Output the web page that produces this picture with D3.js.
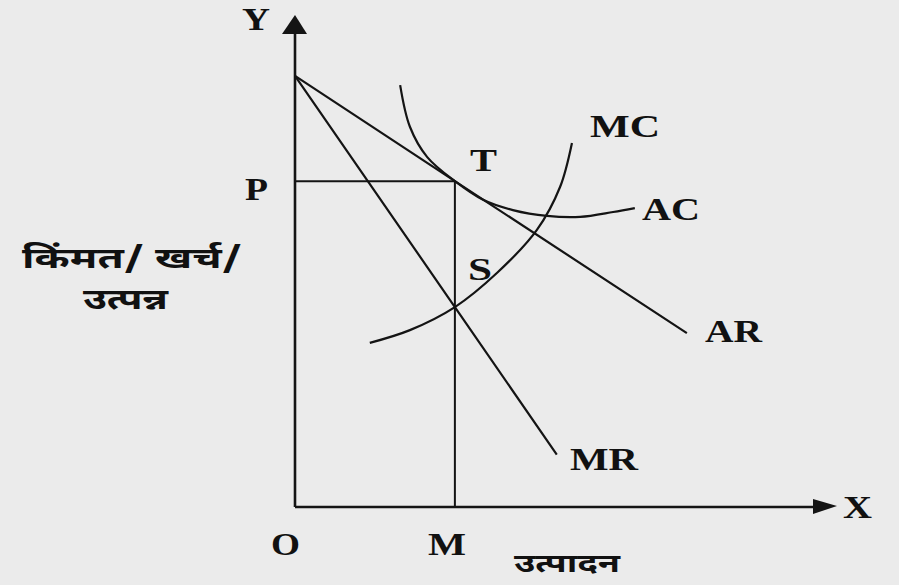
<!DOCTYPE html>
<html>
<head>
<meta charset="utf-8">
<script src="https://cdn.jsdelivr.net/npm/d3@7"></script>
<style>
  html, body { margin: 0; padding: 0; background: #ebebeb; }
  svg { display: block; }
  .lbl { font-family: "Liberation Serif", "Times New Roman", serif; font-weight: bold; font-size: 32px; fill: #111; }
  .dev { font-family: "Noto Sans Devanagari", "Noto Sans", sans-serif; font-weight: bold; font-size: 29px; fill: #111; }
</style>
</head>
<body>
<svg></svg>
<script>
const width = 899;
const height = 585;

// curves in (quantity, price) units
const arLine = [[0, 8.8], [2.95, 6.65], [7.23, 3.55]];
const mrLine = [[0, 8.8], [2.95, 4.08], [4.83, 1.07]];
const mcCurve = [[1.38, 3.35], [2.12, 3.61], [2.95, 4.08], [3.73, 4.78], [4.46, 5.65], [4.89, 6.53], [5.11, 7.43]];
const acCurve = [[1.94, 8.61], [2.12, 7.76], [2.44, 7.14], [2.95, 6.65], [3.47, 6.27], [4.02, 6.06], [4.65, 5.94], [5.26, 5.92], [5.87, 6.02], [6.27, 6.10]];

// equilibrium output and price
const qM = 2.95;
const pP = 6.65;

const svg = d3.select("svg")
  .attr("width", width)
  .attr("height", height);

svg.append("rect")
  .attr("width", width)
  .attr("height", height)
  .attr("fill", "#ebebeb");

const x = d3.scaleLinear().domain([0, 10]).range([295, 837]);
const y = d3.scaleLinear().domain([0, 10]).range([507, 17]);

const ink = "#141414";

// axes
svg.append("line")
  .attr("x1", x(0)).attr("y1", y(0))
  .attr("x2", x(0)).attr("y2", y(10) + 14)
  .attr("stroke", ink).attr("stroke-width", 2.6);

svg.append("line")
  .attr("x1", x(0)).attr("y1", y(0))
  .attr("x2", x(10) - 20).attr("y2", y(0))
  .attr("stroke", ink).attr("stroke-width", 2.6);

// arrow heads
svg.append("path")
  .attr("d", `M${x(0)},${y(10) - 2} L${x(0) - 13},${y(10) + 17} L${x(0) + 12},${y(10) + 17} Z`)
  .attr("fill", ink);

svg.append("path")
  .attr("d", `M${x(10)},${y(0) - 1} L${x(10) - 24},${y(0) - 8} L${x(10) - 24},${y(0) + 7} Z`)
  .attr("fill", ink);

const line = d3.line().x(d => x(d[0])).y(d => y(d[1]));
const curve = d3.line().x(d => x(d[0])).y(d => y(d[1])).curve(d3.curveCatmullRom.alpha(0.5));

svg.append("path").attr("d", line(arLine))
  .attr("fill", "none").attr("stroke", ink).attr("stroke-width", 2.2);
svg.append("path").attr("d", line(mrLine))
  .attr("fill", "none").attr("stroke", ink).attr("stroke-width", 2.2);
svg.append("path").attr("d", curve(mcCurve))
  .attr("fill", "none").attr("stroke", ink).attr("stroke-width", 2.2);
svg.append("path").attr("d", curve(acCurve))
  .attr("fill", "none").attr("stroke", ink).attr("stroke-width", 2.2);

// P-T and T-M guides
svg.append("line")
  .attr("x1", x(0)).attr("y1", y(pP))
  .attr("x2", x(qM)).attr("y2", y(pP))
  .attr("stroke", ink).attr("stroke-width", 2);
svg.append("line")
  .attr("x1", x(qM)).attr("y1", y(pP))
  .attr("x2", x(qM)).attr("y2", y(0))
  .attr("stroke", ink).attr("stroke-width", 2);

// letter labels: [text, x, baseline, width]
const labels = [
  ["Y", 242, 30, 28],
  ["X", 843, 518, 29],
  ["P", 245, 200, 23],
  ["O", 271, 555, 29],
  ["M", 428, 555, 38],
  ["T", 470, 171, 27],
  ["S", 468, 280, 24],
  ["MC", 590, 137, 70],
  ["AC", 642, 220, 58],
  ["AR", 705, 342, 57],
  ["MR", 570, 470, 68]
];

svg.selectAll("text.lbl")
  .data(labels)
  .join("text")
  .attr("class", "lbl")
  .attr("x", d => d[1])
  .attr("y", d => d[2])
  .attr("textLength", d => d[3])
  .attr("lengthAdjust", "spacingAndGlyphs")
  .text(d => d[0]);

// axis titles: [text, x, baseline, width, size]
const titles = [
  ["किंमत/ खर्च/", 22, 268, 220, 29],
  ["उत्पन्न", 83, 309, 85, 29],
  ["उत्पादन", 514, 572, 106, 26]
];

svg.selectAll("text.dev")
  .data(titles)
  .join("text")
  .attr("class", "dev")
  .attr("x", d => d[1])
  .attr("y", d => d[2])
  .attr("font-size", d => d[4])
  .style("font-size", d => d[4] + "px")
  .attr("textLength", d => d[3])
  .attr("lengthAdjust", "spacingAndGlyphs")
  .text(d => d[0]);
</script>
</body>
</html>
